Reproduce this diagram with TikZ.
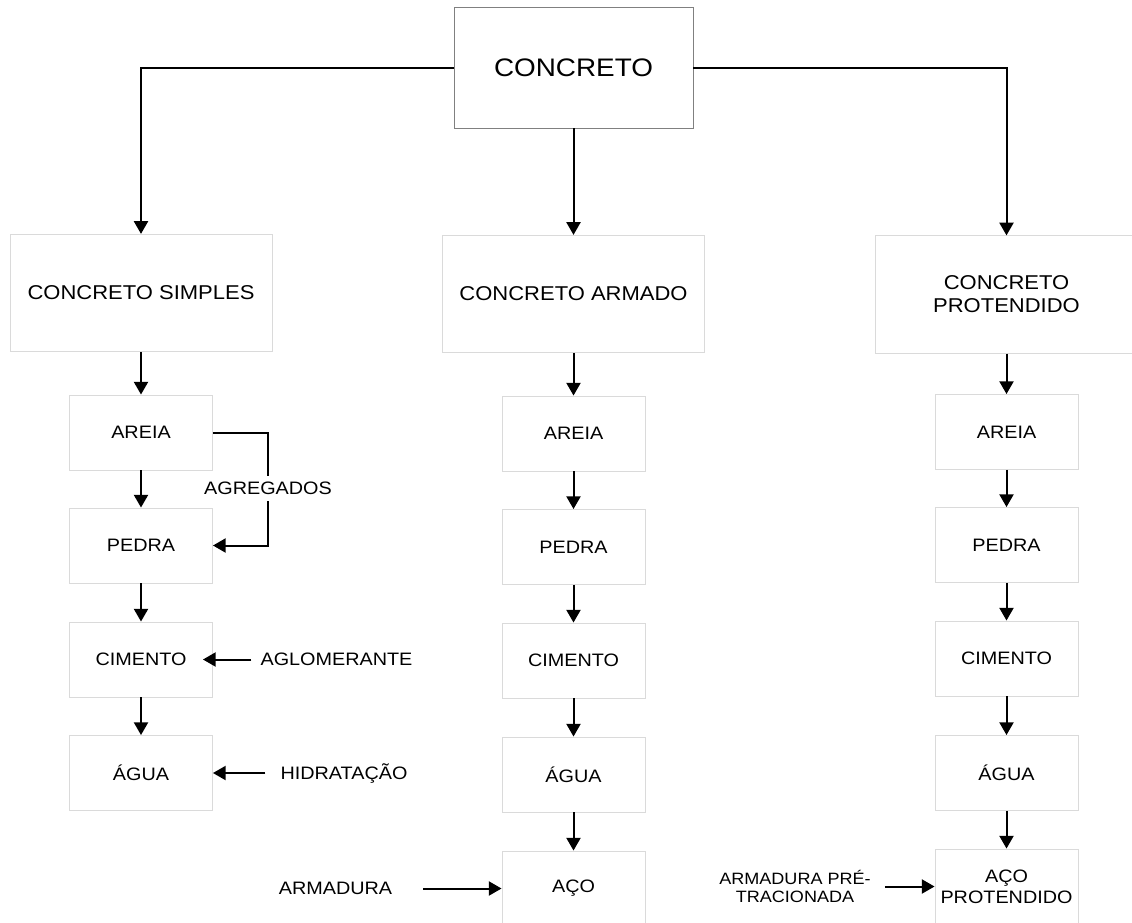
\documentclass[tikz,border=0pt]{standalone}
\usepackage{fontspec}
\setmainfont{Liberation Sans}[FakeStretch=1.1]
\usetikzlibrary{arrows.meta}
\definecolor{boxgray}{HTML}{DADADA}
\definecolor{topgray}{HTML}{808080}
\begin{document}
\begin{tikzpicture}[x=0.75pt,y=-0.75pt,
  topbox/.style={draw=topgray, line width=0.6pt, minimum width=179.25pt, minimum height=90.75pt, inner sep=0pt, font=\fontsize{19}{21}\selectfont},
  bigbox/.style={draw=boxgray, line width=0.7pt, minimum width=196.5pt, minimum height=88pt, inner sep=0pt, align=center, font=\fontsize{15}{17.25}\selectfont},
  box/.style={draw=boxgray, line width=0.7pt, minimum width=107.25pt, minimum height=56.25pt, inner sep=0pt, align=center, font=\fontsize{13.5}{15.75}\selectfont},
  lbl/.style={inner sep=0pt, align=center, font=\fontsize{13.5}{15.75}\selectfont},
  smalllbl/.style={inner sep=0pt, align=center, font=\fontsize{12.3}{13.5}\selectfont},
  conn/.style={line width=1.5pt, -{Triangle[width=10.5pt,length=9.5pt]}}
]
\path[use as bounding box, clip] (0,0) rectangle (1132,922);

% main nodes
\node[topbox] (top) at (573.5,67.5) {CONCRETO};
\node[bigbox] (simples) at (141,293) {CONCRETO SIMPLES};
\node[bigbox] (armado) at (573.5,294) {CONCRETO ARMADO};
\node[bigbox] (prot) at (1006.5,294.5) {CONCRETO\\PROTENDIDO};

% left column
\node[box] (sAreia) at (141,432.5) {AREIA};
\node[box] (sPedra) at (141,545.5) {PEDRA};
\node[box] (sCim) at (141,659.5) {CIMENTO};
\node[box] (sAgua) at (141,773) {ÁGUA};

% middle column
\node[box] (mAreia) at (573.5,433.5) {AREIA};
\node[box] (mPedra) at (573.5,547) {PEDRA};
\node[box] (mCim) at (573.5,660.5) {CIMENTO};
\node[box] (mAgua) at (573.5,774.5) {ÁGUA};
\node[box] (mAco) at (573.5,888.5) {AÇO};

% right column
\node[box] (rAreia) at (1006.5,432) {AREIA};
\node[box] (rPedra) at (1006.5,545) {PEDRA};
\node[box] (rCim) at (1006.5,658.5) {CIMENTO};
\node[box] (rAgua) at (1006.5,773) {ÁGUA};
\node[box] (rAco) at (1006.5,886.5) {AÇO\\PROTENDIDO};

% side labels
\node[lbl] (aglom) at (336.5,659.5) {AGLOMERANTE};
\node[lbl] (hidr) at (344,773) {HIDRATAÇÃO};
\node[lbl] (armad) at (335.5,888.5) {ARMADURA};
\node[smalllbl] (pretr) at (795,886.5) {ARMADURA PRÉ-\\TRACIONADA};

% top connectors
\draw[conn] (top.west) -| (simples.north);
\draw[conn] (top.east) -| (prot.north);
\draw[conn] (top.south) -- (armado.north);

% column connectors
\draw[conn] (simples.south) -- (sAreia.north);
\draw[conn] (sAreia.south) -- (sPedra.north);
\draw[conn] (sPedra.south) -- (sCim.north);
\draw[conn] (sCim.south) -- (sAgua.north);

\draw[conn] (armado.south) -- (mAreia.north);
\draw[conn] (mAreia.south) -- (mPedra.north);
\draw[conn] (mPedra.south) -- (mCim.north);
\draw[conn] (mCim.south) -- (mAgua.north);
\draw[conn] (mAgua.south) -- (mAco.north);

\draw[conn] (prot.south) -- (rAreia.north);
\draw[conn] (rAreia.south) -- (rPedra.north);
\draw[conn] (rPedra.south) -- (rCim.north);
\draw[conn] (rCim.south) -- (rAgua.north);
\draw[conn] (rAgua.south) -- (rAco.north);

% agregados bracket
\coordinate (aggpt) at (268,488.5);
\draw[conn] (sAreia.east) -| (aggpt) |- (sPedra.east);
\node[lbl, fill=white, inner sep=4.5pt] (agg) at (aggpt) {AGREGADOS};

% side arrows
\draw[conn] ([xshift=-6.75pt]aglom.west) -- ([xshift=-7.5pt]sCim.east);
\draw[conn] ([xshift=-11.25pt]hidr.west) -- (sAgua.east);
\draw[conn] ([xshift=23.25pt]armad.east) -- (mAco.west);
\draw[conn] ([xshift=10.5pt]pretr.east) -- (rAco.west);
\end{tikzpicture}
\end{document}
